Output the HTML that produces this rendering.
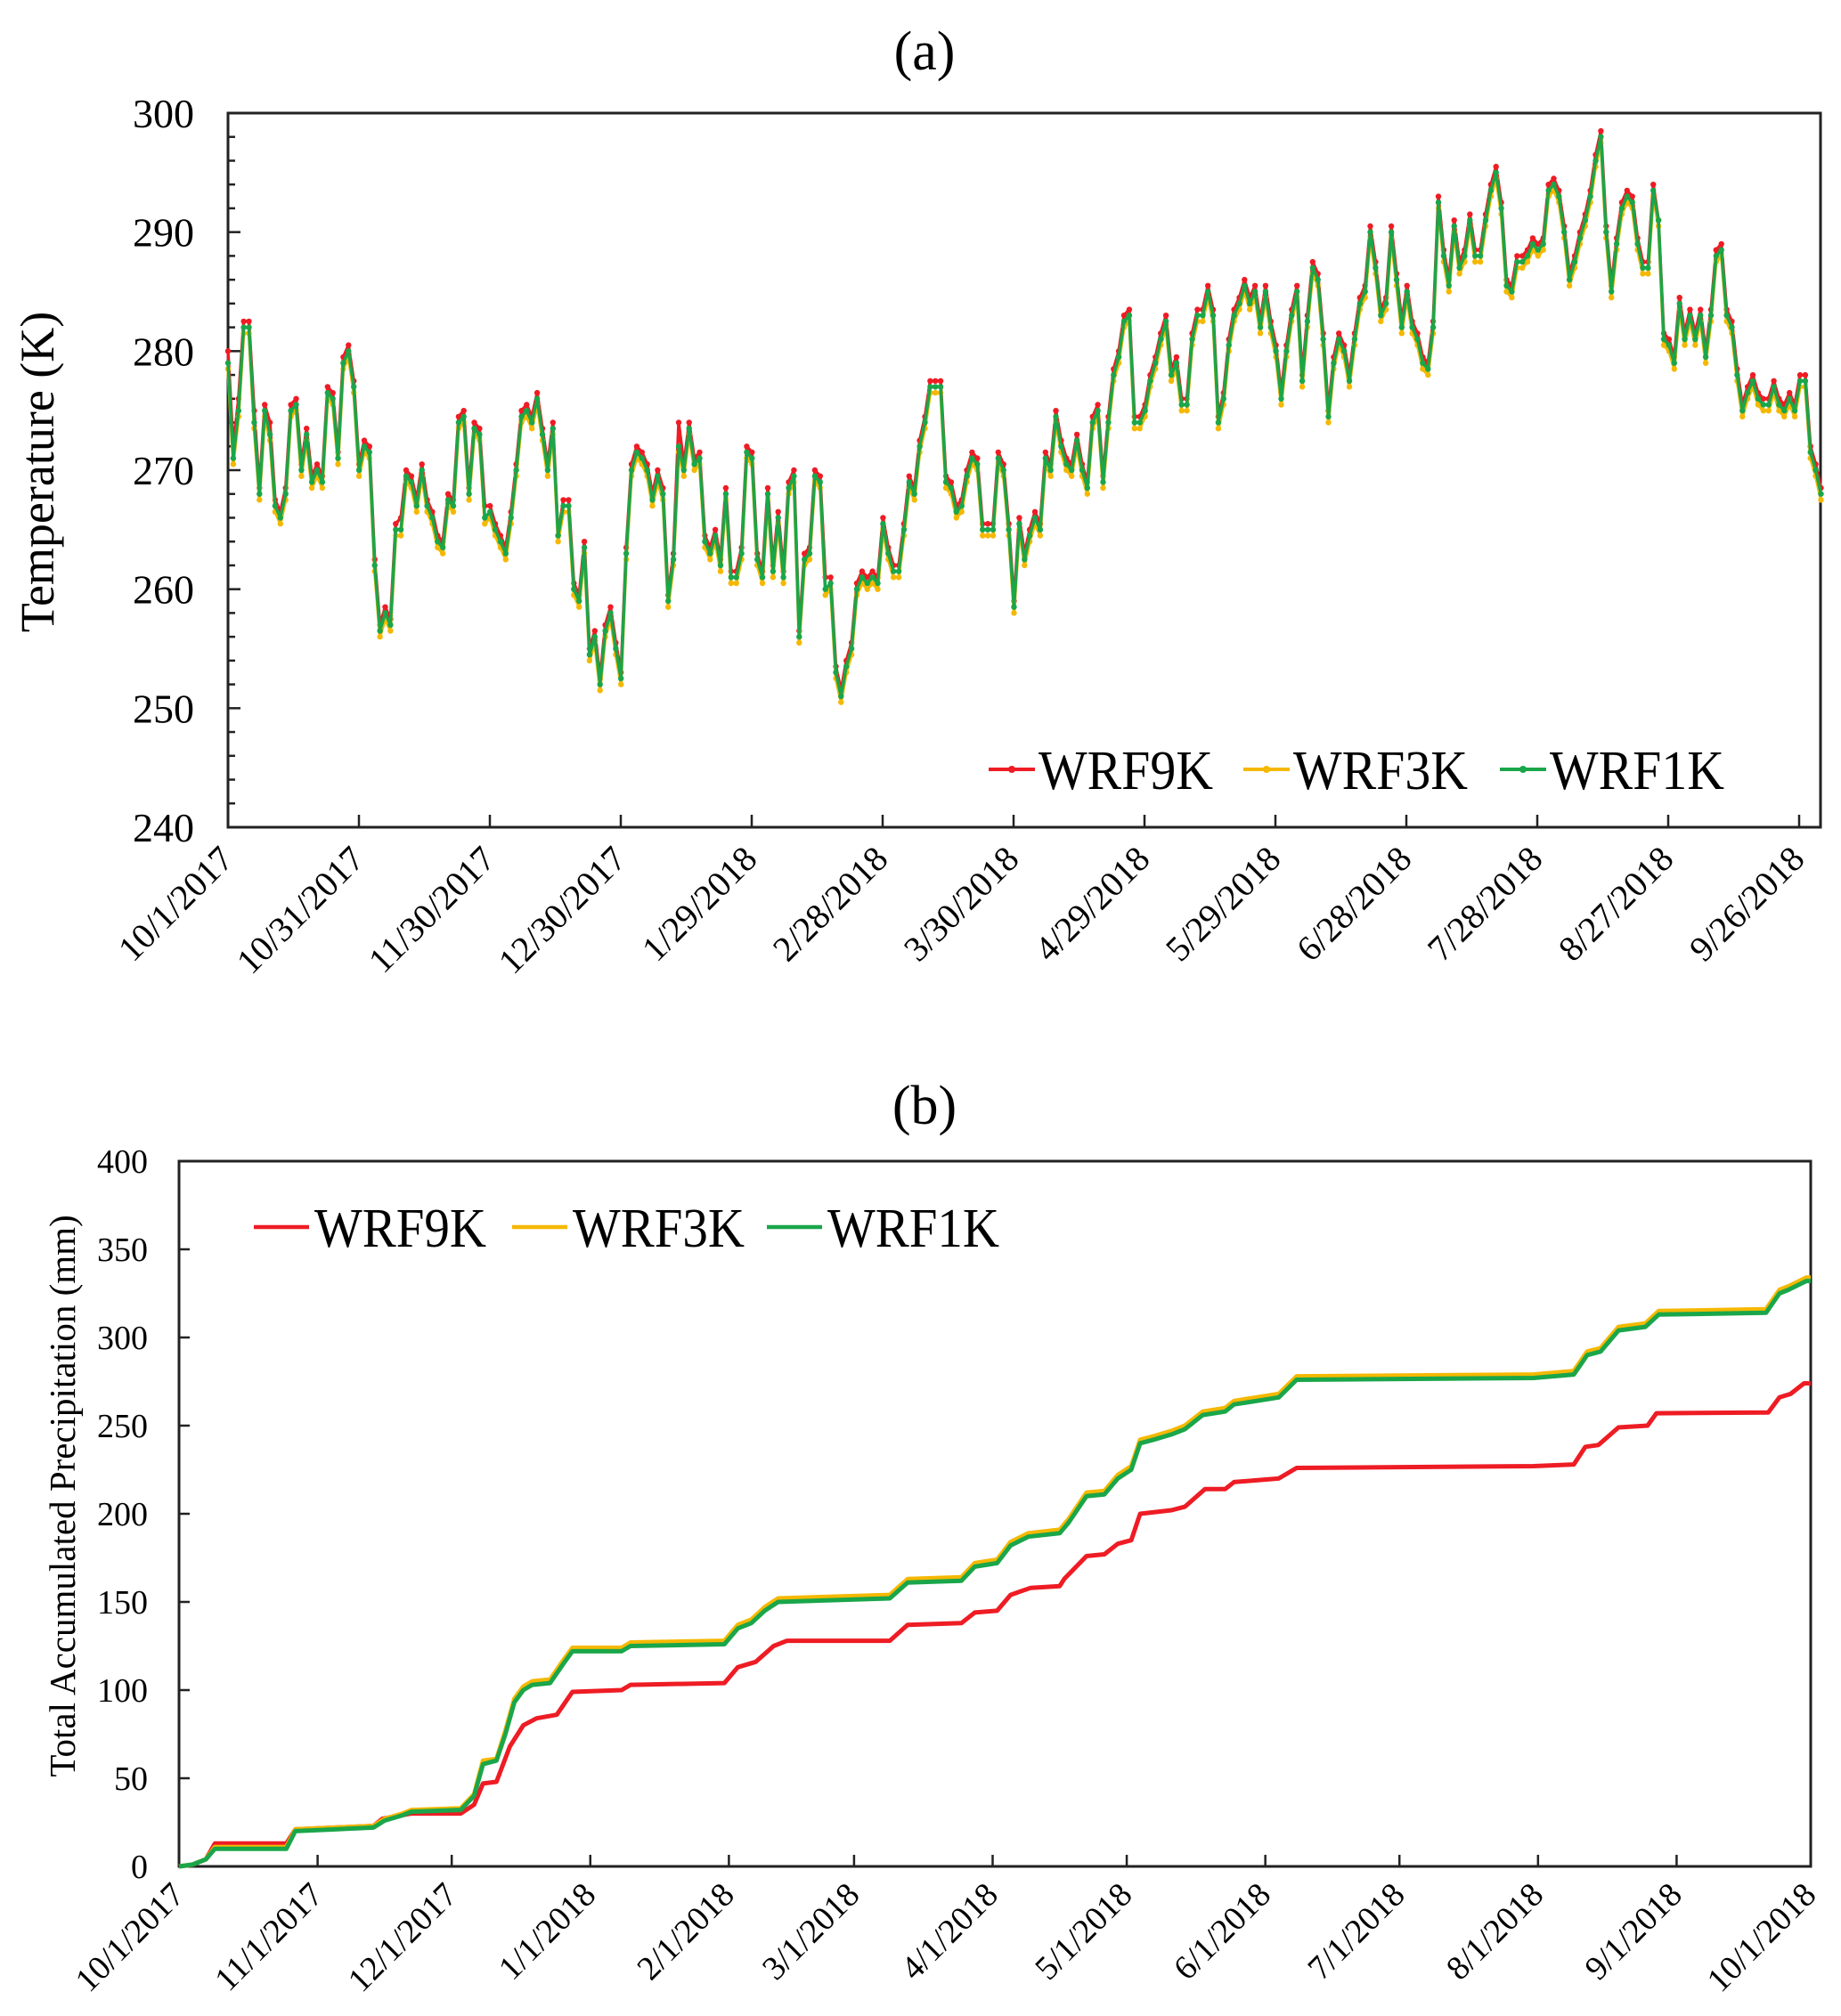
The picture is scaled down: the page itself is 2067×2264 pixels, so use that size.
<!DOCTYPE html>
<html><head><meta charset="utf-8"><style>
html,body{margin:0;padding:0;background:#fff}
svg{display:block;font-family:"Liberation Serif",serif}
</style></head><body>
<svg id="fig" width="2067" height="2264" viewBox="0 0 2067 2264" xmlns="http://www.w3.org/2000/svg">
<text x="1038" y="78" font-size="62" text-anchor="middle">(a)</text>
<text x="1038" y="1262" font-size="62" text-anchor="middle">(b)</text>
<g id="chartA"></g>
<g id="chartB"></g>
</svg>
<script>
// ---------- Panel (a) data ----------
const tempTickLabels = [240,250,260,270,280,290,300];
const tempDateLabels = ["10/1/2017","10/31/2017","11/30/2017","12/30/2017","1/29/2018","2/28/2018","3/30/2018","4/29/2018","5/29/2018","6/28/2018","7/28/2018","8/27/2018","9/26/2018"];
const tempWRF1K = [279,271,275,282,282,274,268,275,273,267,266,268,275,275.5,270,273,269,270,269,276.5,276,271,279,280,277,270,272,271.5,262,256.5,258,257,265,265,269.5,269,267,270,267,266,264,263.5,267.5,267,274,274.5,268,273.5,273,266,266.5,265,264,263,266,270,274.5,275,274,276,273,270,273.5,264.5,267,267,260,259,263.5,254.5,256,252,256.5,258,255,252.5,263,270,271.5,271,270,267.5,269.5,268,259,262.5,272,270,273.5,270.5,271,264,263,264.5,262,268,261,261,263,271.5,271,262.5,261,268,261.5,266,261,268.5,269.5,256,262.5,263,269.5,269,260,260.5,253,251,253.5,255,260,261,260.5,261,260.5,265.5,263,261.5,261.5,265,269,268,272,274,277,277,277,269,268.5,266.5,267,269.5,271,270.5,265,265,265,271,270,265,258.5,265.5,262.5,264.5,266,265,271,270,274.5,272,270.5,270,272.5,270,268.5,274,275,269,274,278,279.5,282.5,283,274,274,275,277.5,279,281,282.5,278,279,275.5,275.5,281,283,283,285,283,274,276,280.5,283,284,285.5,284,285,282,285,282,280,276,280,283,285,277.5,282.5,287,286,281,274.5,279,281,280,277.5,281,284,285,290,287,283,284,290,286,282,285,282,281,279,278.5,282,292.5,288,285.5,290.5,287,288,291,288,288,291,293.5,295,292,285.5,285,287.5,287.5,288,289,288.5,289,293.5,294,293,290,286,287.5,289.5,291,293,296,298,290,285,289,292,293,292.5,289,287,287,293.5,291,281,280.5,279,284,281,283,281,283,279.5,283,288,288.5,283,282,278,275,276.5,277.5,276,275.5,275.5,277,275.5,275,276,275,277.5,277.5,271.5,270,268];
const tempWRF9K = [280,272,276,282.5,282.5,275,268.5,275.5,274,267.5,266.5,268.5,275.5,276,270.5,273.5,269.5,270.5,269.5,277,276.5,271.5,279.5,280.5,277.5,270.5,272.5,272,262.5,257,258.5,257.5,265.5,266,270,269.5,267.5,270.5,267.5,266.5,264.5,264,268,267.5,274.5,275,268.5,274,273.5,267,267,265.5,264.5,263.5,266.5,270.5,275,275.5,274.5,276.5,273.5,270.5,274,264.5,267.5,267.5,260.5,259.5,264,255,256.5,252.5,257,258.5,255.5,253,263.5,270.5,272,271.5,270.5,268,270,268.5,259.5,263,274,270.5,274,271,271.5,264.5,263.5,265,262.5,268.5,261.5,261.5,263.5,272,271.5,263,261.5,268.5,262,266.5,261.5,269,270,256.5,263,263.5,270,269.5,261,261,253.5,251.5,254,255.5,260.5,261.5,261,261.5,261,266,263.5,262,262,265.5,269.5,268.5,272.5,274.5,277.5,277.5,277.5,269.5,269,267,267.5,270,271.5,271,265.5,265.5,265.5,271.5,270.5,265.5,259,266,263,265,266.5,265.5,271.5,270.5,275,272.5,271,270.5,273,270.5,269,274.5,275.5,269.5,274.5,278.5,280,283,283.5,274.5,274.5,275.5,278,279.5,281.5,283,278.5,279.5,276,276,281.5,283.5,283.5,285.5,283.5,274.5,276.5,281,283.5,284.5,286,284.5,285.5,282.5,285.5,282.5,280.5,276.5,280.5,283.5,285.5,278,283,287.5,286.5,281.5,275,279.5,281.5,280.5,278,281.5,284.5,285.5,290.5,287.5,283.5,284.5,290.5,286.5,282.5,285.5,282.5,281.5,279.5,279,282.5,293,288.5,286,291,287.5,288.5,291.5,288.5,288.5,291.5,294,295.5,292.5,286,285.5,288,288,288.5,289.5,289,289.5,294,294.5,293.5,290.5,286.5,288,290,291.5,293.5,296.5,298.5,290.5,285.5,289.5,292.5,293.5,293,289.5,287.5,287.5,294,291,281.5,281,279.5,284.5,281.5,283.5,281.5,283.5,280,283.5,288.5,289,283.5,282.5,278.5,275.5,277,278,276.5,276,276,277.5,276,275.5,276.5,275.5,278,278,272,270.5,268.5];
const tempWRF3K = [278.5,270.5,274.5,281.5,281.5,273.5,267.5,274.5,272.5,266.5,265.5,267.5,274.5,275,269.5,272.5,268.5,269.5,268.5,276,275.5,270.5,278.5,279.5,276.5,269.5,271.5,271,261.5,256,257.5,256.5,264.5,264.5,269,268.5,266.5,269.5,266.5,265.5,263.5,263,267,266.5,273.5,274,267.5,273,272.5,265.5,266,264.5,263.5,262.5,265.5,269.5,274,274.5,273.5,275.5,272.5,269.5,273,264,266.5,266.5,259.5,258.5,263,254,255.5,251.5,256,257.5,254.5,252,262.5,269.5,271,270.5,269.5,267,269,267.5,258.5,262,271.5,269.5,273,270,270.5,263.5,262.5,264,261.5,267.5,260.5,260.5,262.5,271,270.5,262,260.5,267.5,261,265.5,260.5,268,269,255.5,262,262.5,269,268.5,259.5,260,252.5,250.5,253,254.5,259.5,260.5,260,260.5,260,265,262.5,261,261,264.5,268.5,267.5,271.5,273.5,276.5,276.5,276.5,268.5,268,266,266.5,269,270.5,270,264.5,264.5,264.5,270.5,269.5,264.5,258,265,262,264,265.5,264.5,270.5,269.5,274,271.5,270,269.5,272,269.5,268,273.5,274.5,268.5,273.5,277.5,279,282,282.5,273.5,273.5,274.5,277,278.5,280.5,282,277.5,278.5,275,275,280.5,282.5,282.5,284.5,282.5,273.5,275.5,280,282.5,283.5,285,283.5,284.5,281.5,284.5,281.5,279.5,275.5,279.5,282.5,284.5,277,282,286.5,285.5,280.5,274,278.5,280.5,279.5,277,280.5,283.5,284.5,289.5,286.5,282.5,283.5,289.5,285.5,281.5,284.5,281.5,280.5,278.5,278,281.5,292,287.5,285,290,286.5,287.5,290.5,287.5,287.5,290.5,293,294.5,291.5,285,284.5,287,287,287.5,288.5,288,288.5,293,293.5,292.5,289.5,285.5,287,289,290.5,292.5,295.5,297.5,289.5,284.5,288.5,291.5,292.5,292,288.5,286.5,286.5,293,290.5,280.5,280,278.5,283.5,280.5,282.5,280.5,282.5,279,282.5,287.5,288,282.5,281.5,277.5,274.5,276,277,275.5,275,275,276.5,275,274.5,275.5,274.5,277,277,271,269.5,267.5];

// ---------- Panel (b) data ----------
const precTickLabels = [0,50,100,150,200,250,300,350,400];
const precDateLabels = ["10/1/2017","11/1/2017","12/1/2017","1/1/2018","2/1/2018","3/1/2018","4/1/2018","5/1/2018","6/1/2018","7/1/2018","8/1/2018","9/1/2018","10/1/2018"];
const precDateDays = [0,31,61,92,123,151,182,212,243,273,304,335,365];
const precDays9K = [0,3,6,8,24,26,43.5,45.5,52,63,66,68,71,74,77,80,84.5,88,99,101,122,125,129,133,136,159,163,175,178,183,186,190.5,197,198,203,207,210,213,215,222,225,229.5,234,236,241,246,250,303,312,314.6,317.5,322,328.5,330.5,355.5,358,360.5,363.5,365];
const precWRF9K = [0,1,4,13,13,21,23,27,30,30,35,47,48,68,80,84,86,99,100,103,104,113,116,125,128,128,137,138,144,145,154,158,159,163,176,177,183,185,200,202,204,214,214,218,219,220,226,227,228,238,239,249,250,257,257.5,266,268,274,274];
const precDays1K = [0,3,6,8,24,26,43.5,46,50,52,63,66,68,71,73,75,77,79,83,86,88,99,101,122,125,128,131,134,159,163,175,178,183,186,190,197,199,203,207,210,213,215,218,222,225,229,234,236,241,246,250,303,312,315,318,322,328,331,355,358,360,364,365];
const precWRF1K = [0,1,4,10,10,20,22,26,29,31,32,40,58,60,75,93,100,103,104,115,122,122,125,126,135,138,145,150,152,161,162,170,172,182,187,189,195,210,211,220,225,240,242,245,248,256,258,262,264,266,276,277,279,290,292,304,306,313,314,325,327,332,332];
const precWRF3K = [0,1,4,11,11,21,23,27,30,32,33,41,60,61,77,95,102,105,106,117,124,124,127,128,137,140,147,152,154,163,164,172,174,184,189,191,197,212,213,222,227,242,244,247,250,258,260,264,266,268,278,279,281,292,294,306,308,315,316,327,329,334,334];

const NS = "http://www.w3.org/2000/svg";
function mk(parent, tag, attrs, text){
  const e = document.createElementNS(NS, tag);
  for (const k in attrs) e.setAttribute(k, attrs[k]);
  if (text !== undefined) e.textContent = text;
  parent.appendChild(e);
  return e;
}

// ===== Panel A =====
(function(){
  const g = document.getElementById('chartA');
  const L=256, R=2044, T=127, B=929;
  const yv = v => B - (v-240)/(300-240)*(B-T);
  const dayX = d => L + d*4.9;
  const n = tempWRF1K.length;
  const xi = i => dayX(i*365/(n-1));
  // frame
  const fr = mk(g,'rect',{x:L,y:T,width:R-L,height:B-T,fill:'none',stroke:'#222','stroke-width':3});
  
  
  // y ticks
  for (let v=240; v<=300; v+=2){
    const len = (v%10===0)?14:8;
    const t = mk(g,'line',{x1:L,x2:L+len,y1:yv(v),y2:yv(v),stroke:'#222','stroke-width':2.5});
    
    
  }
  tempTickLabels.forEach(v=>{
    const t = mk(g,'text',{x:218,y:yv(v)+16,'font-size':46,'text-anchor':'end'}, String(v));
    
    
  });
  tempDateLabels.forEach((s,i)=>{
    const x = dayX(i*30);
    const tk = mk(g,'line',{x1:x,x2:x,y1:B,y2:B-14,stroke:'#222','stroke-width':2.5});
    
    
    const t = mk(g,'text',{x:0,y:0,'font-size':40,'text-anchor':'end',transform:`translate(${x+8},${B+38}) rotate(-45)`}, s);
    
    
  });
  const yl = mk(g,'text',{x:0,y:0,'font-size':54,'text-anchor':'middle',transform:'translate(60,530) rotate(-90)'},'Temperature (K)');
  
  
  const series = [[tempWRF9K,'#ee1c24','WRF9K'],[tempWRF3K,'#f5b800','WRF3K'],[tempWRF1K,'#1aa64a','WRF1K']];
  series.forEach(([arr,col,name])=>{
    const pts = arr.map((v,i)=>xi(i).toFixed(1)+','+yv(v).toFixed(1)).join(' ');
    const pl = mk(g,'polyline',{points:pts,fill:'none',stroke:col,'stroke-width':3.5,'stroke-linejoin':'round'});
    
    
    const mg = mk(g,'g',{fill:col});
    
    
    arr.forEach((v,i)=>{ mk(mg,'circle',{cx:xi(i).toFixed(1),cy:yv(v).toFixed(1),r:3.2}); });
  });
  // legend
  const lg = mk(g,'g',{});
  
  
  [['#ee1c24','WRF9K',1110],['#f5b800','WRF3K',1396],['#1aa64a','WRF1K',1684]].forEach(([c,n,x])=>{
    const ln = mk(lg,'line',{x1:x,x2:x+52,y1:864,y2:864,stroke:c,'stroke-width':4});
    
    
    mk(lg,'circle',{cx:x+26,cy:864,r:4,fill:c});
    const t = mk(lg,'text',{x:x+56,y:886,'font-size':62,textLength:196,lengthAdjust:'spacingAndGlyphs'},n);
    
    
  });
})();

// ===== Panel B =====
(function(){
  const g = document.getElementById('chartB');
  const L=201, R=2033, T=1304, B=2096;
  const yv = v => B - v/400*(B-T);
  const xd = d => L + d/365*(R-L);
  const fr = mk(g,'rect',{x:L,y:T,width:R-L,height:B-T,fill:'none',stroke:'#222','stroke-width':3});
  
  
  precTickLabels.forEach(v=>{
    const tk = mk(g,'line',{x1:L,x2:L+12,y1:yv(v),y2:yv(v),stroke:'#222','stroke-width':2.5});
    
    
    const t = mk(g,'text',{x:166,y:yv(v)+13,'font-size':38,'text-anchor':'end'}, String(v));
    
    
  });
  precDateLabels.forEach((s,i)=>{
    const x = xd(precDateDays[i]);
    const tk = mk(g,'line',{x1:x,x2:x,y1:B,y2:B-13,stroke:'#222','stroke-width':2.5});
    
    
    const t = mk(g,'text',{x:0,y:0,'font-size':38,'text-anchor':'end',transform:`translate(${x+8},${B+34}) rotate(-45)`}, s);
    
    
  });
  const yl = mk(g,'text',{x:0,y:0,'font-size':41,'text-anchor':'middle',transform:'translate(84,1680) rotate(-90)'},'Total Accumulated Precipitation (mm)');
  
  
  const series = [[precDays9K,precWRF9K,'#ee1c24','WRF9K'],[precDays1K,precWRF3K,'#f5b800','WRF3K'],[precDays1K,precWRF1K,'#1aa64a','WRF1K']];
  series.forEach(([days,arr,col,name])=>{
    const pts = arr.map((v,i)=>xd(days[i]).toFixed(1)+','+yv(v).toFixed(1)).join(' ');
    const pl = mk(g,'polyline',{points:pts,fill:'none',stroke:col,'stroke-width':5,'stroke-linejoin':'round'});
    
    
  });
  const lg = mk(g,'g',{});
  
  
  [['#ee1c24','WRF9K',285],['#f5b800','WRF3K',575],['#1aa64a','WRF1K',861]].forEach(([c,n,x])=>{
    const ln = mk(lg,'line',{x1:x,x2:x+62,y1:1378,y2:1378,stroke:c,'stroke-width':4.5});
    
    
    const t = mk(lg,'text',{x:x+68,y:1400,'font-size':62,textLength:193,lengthAdjust:'spacingAndGlyphs'},n);
    
    
  });
})();
</script>
</body></html>
